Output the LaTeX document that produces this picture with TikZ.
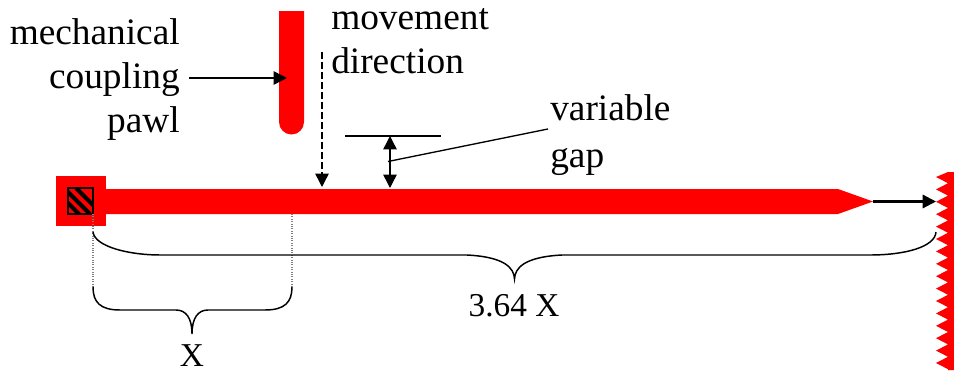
\documentclass[tikz,border=0pt]{standalone}
\usepackage{fontspec}
\setmainfont{Liberation Serif}
\usetikzlibrary{arrows.meta,calc}
\definecolor{partRed}{RGB}{255,0,0}
\tikzset{
  label text/.style={font=\fontsize{28}{33}\selectfont, inner sep=0pt},
  size text/.style={font=\fontsize{25}{30}\selectfont, inner sep=0pt},
  thin arrow/.style={-{Triangle[length=10pt,width=10pt]}, line width=1.1pt, black},
  guide line/.style={densely dotted, gray, line width=0.8pt},
  brace line/.style={black, line width=1.1pt}
}
\begin{document}
\begin{tikzpicture}[x=0.75pt,y=-0.75pt]
  \useasboundingbox (0,0) rectangle (954,371);
  % pawl
  \fill[partRed] (279,11) -- (304,11) -- (304,122) arc[start angle=0,end angle=180,radius=12.5] -- cycle;
  % bar with pointed end and pivot block
  \fill[partRed] (56,176) rectangle (106,226);
  \fill[partRed] (105,189) -- (838,189) -- (873,201.5) -- (838,214) -- (105,214) -- cycle;
  \begin{scope}
    \clip (68,188) rectangle (93,214);
    \foreach \i in {-15,-4,8} {
      \draw[black, line width=3pt] ($(68,188)+(\i,0)$) -- ($(94,214)+(\i,0)$);
    }
  \end{scope}
  \draw[black, line width=1pt] (68,188) rectangle (93,214);
  % rack teeth
  \fill[partRed] (954,172) -- (948,172)
    \foreach \i in {0,...,15} {
      -- ({936},{177+\i*12.4}) -- ({948},{183.2+\i*12.4})
    } -- (948,370) -- (954,370) -- cycle;
  % labels
  \node[label text, align=right, anchor=north east] (pawlLabel) at (180,18) {mechanical\\coupling\\pawl};
  \node[label text, align=left, anchor=north west] (moveLabel) at (331,8) {movement\\direction};
  \node[label text, align=left, anchor=north west] (gapLabel) at (550,94) {variable\\[2.5pt]gap};
  \node[size text, anchor=north] (shortLabel) at (192,344) {X};
  \node[size text, anchor=north] (longLabel) at (514,294) {3.64 X};
  % arrows
  \coordinate (pawlIn) at (287,78);
  \draw[thin arrow] (pawlLabel.east |- pawlIn) ++(9,0) -- (pawlIn);
  \coordinate (moveTop) at (322,52);
  \coordinate (moveEnd) at (322,187);
  \draw[thin arrow, dash pattern=on 5.5pt off 2pt] (moveTop) -- (moveEnd);
  \coordinate (tipStart) at (873,201.5);
  \coordinate (tipEnd) at (936,201.5);
  \draw[thin arrow, line width=1.6pt] (tipStart) -- (tipEnd);
  % gap
  \coordinate (gapTop) at (390,136);
  \coordinate (gapEnd) at (390,188);
  \draw[black, line width=1pt] (345,136) -- (441,136);
  \draw[thin arrow, {Triangle[length=10pt,width=10pt]}-{Triangle[length=10pt,width=10pt]}] (gapTop) -- (gapEnd);
  \coordinate (gapMid) at (388,161.5);
  \draw[black, line width=1pt] (gapMid) -- (548,129);
  % guides
  \coordinate (pivotLow) at (93,287);
  \coordinate (markLow) at (292,287);
  \draw[guide line] (93,214) -- (pivotLow);
  \draw[guide line] (292,214) -- (markLow);
  % braces
  \draw[brace line] (pivotLow) .. controls (93,302) and (100,310) .. (120,310)
    -- (176,310) .. controls (186,310) and (192,318) .. (192,334)
    .. controls (192,318) and (198,310) .. (208,310)
    -- (265,310) .. controls (285,310) and (292,302) .. (markLow);
  \draw[brace line] (93,232) .. controls (95,247) and (130,255) .. (160,255)
    -- (467,255) .. controls (505,257) and (514,268) .. (514.5,279)
    .. controls (515,268) and (524,257) .. (562,255)
    -- (870,255) .. controls (905,255) and (935,247) .. (936,232);
\end{tikzpicture}
\end{document}
